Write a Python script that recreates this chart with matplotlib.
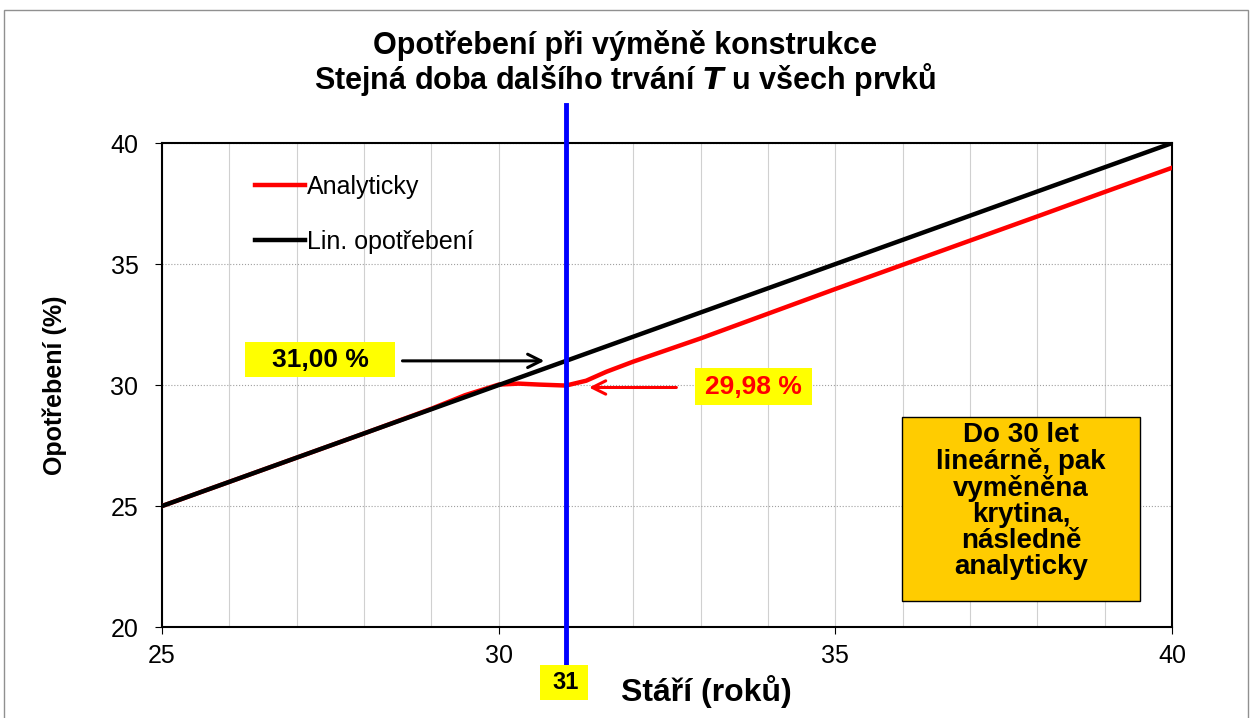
import matplotlib.pyplot as plt
from matplotlib.patches import Rectangle

plt.rcParams['font.family'] = ['Liberation Sans', 'DejaVu Sans']

# data
stari = [25, 26, 27, 28, 29, 29.5, 30, 30.3, 30.6, 31, 31.3, 31.6, 32, 33, 34, 35,
         36, 37, 38, 39, 40]
analyticky = [25, 26, 27, 28, 29.02, 29.58, 30.02, 30.06, 30.02, 29.98, 30.18, 30.55,
              30.97, 31.93, 32.95, 33.97, 34.97, 35.97, 36.97, 37.98, 38.98]
lin_x = [25, 40]
lin_y = [25, 40]
vymena = 31
titulek = 'Opotřebení při výměně konstrukce\nStejná doba dalšího trvání $\\boldsymbol{T}$ u všech prvků'
popis_box = 'Do 30 let\nlineárně, pak\nvyměněna\nkrytina,\nnásledně\nanalyticky'

fig = plt.figure(figsize=(12.5, 7.18), dpi=100)
ax = fig.add_axes([0.1296, 0.1267, 0.808, 0.674])

ax.plot(stari, analyticky, color='#FF0000', lw=3.2, label='Analyticky', zorder=3)
ax.plot(lin_x, lin_y, color='black', lw=3.2, label='Lin. opotřebení', zorder=4)
ax.axvline(vymena, ymin=-0.074, ymax=1.078, color='#0000FF', lw=3.5, clip_on=False, zorder=5)

ax.set_xlim(25, 40)
ax.set_ylim(20, 40)
ax.set_xticks([25, 30, 35, 40])
ax.set_yticks([20, 25, 30, 35, 40])
ax.set_xticks(range(25, 41), minor=True)
ax.grid(True, which='minor', axis='x', color='#d0d0d0', lw=0.8)
ax.grid(True, which='major', axis='x', color='#d0d0d0', lw=0.8)
ax.grid(True, which='major', axis='y', color='#a0a0a0', lw=0.8, ls=':')
ax.tick_params(axis='both', labelsize=18, direction='out', length=5)
ax.tick_params(which='minor', length=0)
ax.tick_params(axis='x', pad=7)
ax.tick_params(axis='y', pad=12)
for s in ax.spines.values():
    s.set_linewidth(1.5)

ax.set_xlabel('Stáří (roků)', fontsize=23, fontweight='bold')
ax.xaxis.set_label_coords(0.539, -0.1)
ax.set_ylabel('Opotřebení (%)', fontsize=18, fontweight='bold')
ax.yaxis.set_label_coords(-0.094, 0.5)

fig.text(0.5, 0.911, titulek, ha='center', va='center', fontsize=22, fontweight='bold',
         linespacing=1.0)

ax.legend(loc='upper left', bbox_to_anchor=(0.082, 0.955), frameon=False, fontsize=18,
          handlelength=2.0, handletextpad=0.1, labelspacing=1.25, borderaxespad=0)

# popisky
ax.annotate('', xy=(30.72, 31.0), xytext=(28.53, 31.0),
            arrowprops=dict(arrowstyle='->', color='black', lw=2.2, mutation_scale=24))
ax.add_patch(Rectangle((26.23, 30.33), 2.23, 1.45, fc='#FFFF00', ec='none', zorder=6))
ax.text(27.35, 31.05, '31,00 %', ha='center', va='center', fontsize=19, fontweight='bold',
        zorder=7)

ax.annotate('', xy=(31.3, 29.9), xytext=(32.68, 29.9),
            arrowprops=dict(arrowstyle='->', color='#FF0000', lw=2.2, mutation_scale=24))
ax.add_patch(Rectangle((32.92, 29.17), 1.73, 1.53, fc='#FFFF00', ec='none', zorder=6))
ax.text(33.78, 29.93, '29,98 %', ha='center', va='center', fontsize=19, fontweight='bold',
        color='#FF0000', zorder=7)

ax.add_patch(Rectangle((35.99, 21.07), 3.54, 7.61, fc='#FFCC00', ec='black', lw=1, zorder=6))
ax.text(37.76, 25.2, popis_box, ha='center', va='center', fontsize=20, fontweight='bold',
        linespacing=1.0, zorder=7)

ax.add_patch(Rectangle((30.61, 16.98), 0.72, 1.45, fc='#FFFF00', ec='none', zorder=6,
                       clip_on=False))
ax.text(vymena, 17.7, '31', ha='center', va='center', fontsize=17, fontweight='bold',
        zorder=7, clip_on=False)

fig.patches.append(Rectangle((0.003, -0.01), 0.995, 0.996, transform=fig.transFigure,
                             fill=False, ec='#909090', lw=1))

fig.savefig('out.png', dpi=100)
